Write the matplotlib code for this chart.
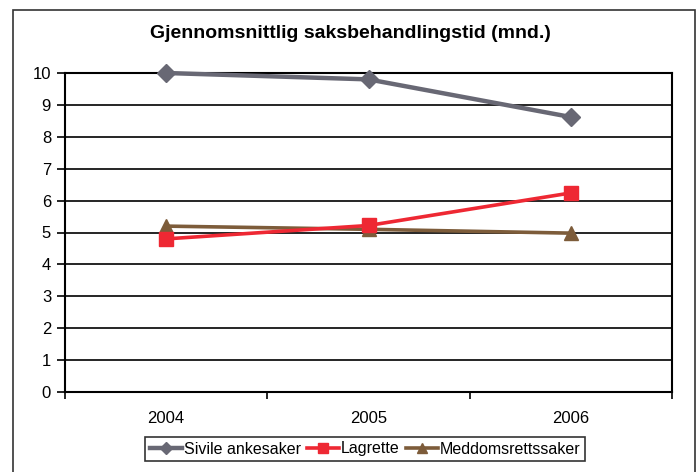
import matplotlib
matplotlib.use("Agg")
import matplotlib.pyplot as plt
from matplotlib.patches import Rectangle

years = ["2004", "2005", "2006"]
sivile = [10.0, 9.8, 8.62]
lagrette = [4.8, 5.22, 6.24]
meddoms = [5.2, 5.1, 4.98]
series_names = ["Sivile ankesaker", "Lagrette", "Meddomsrettssaker"]

plt.rcParams['font.family'] = ['Liberation Sans', 'DejaVu Sans']

fig = plt.figure(figsize=(7, 4.72), dpi=100)
ax = fig.add_axes([65 / 700, 1 - 392 / 472, 607 / 700, 319 / 472])

x = list(range(len(years)))
ax.plot(x, sivile, color='#686874', lw=3.2, marker='D', ms=9, label=series_names[0],
        zorder=3, clip_on=False)
ax.plot(x, lagrette, color='#ee2833', lw=2.6, marker='s', ms=10, label=series_names[1],
        zorder=4, clip_on=False)
ax.plot(x, meddoms, color='#7d5c3a', lw=2.6, marker='^', ms=10, label=series_names[2],
        zorder=3, clip_on=False)

ax.set_xlim(-0.5, 2.5)
ax.set_ylim(0, 10)
ax.set_yticks(range(0, 11))
ax.set_xticks(x)
ax.set_xticklabels(years)
ax.set_xticks([-0.5, 0.5, 1.5, 2.5], minor=True)
ax.tick_params(axis='x', which='major', length=0, pad=14, labelsize=12)
ax.tick_params(axis='x', which='minor', length=5, width=1.2, direction='out')
ax.tick_params(axis='y', length=6, width=1.2, direction='out', pad=4, labelsize=12)
ax.grid(axis='y', color='black', lw=1.2)
ax.set_axisbelow(True)
for sp in ax.spines.values():
    sp.set_linewidth(1.5)

fig.text(0.5, 1 - 33 / 472, "Gjennomsnittlig saksbehandlingstid (mnd.)",
         ha='center', va='center', fontsize=14, fontweight='bold')

leg = fig.legend(loc='center', bbox_to_anchor=(365 / 700, 1 - 449 / 472), ncol=3,
                 frameon=True, fancybox=False, fontsize=11.5, handlelength=2.0,
                 handletextpad=0.1, columnspacing=0.4, borderpad=0.3, markerscale=0.7)
leg.get_frame().set_edgecolor('black')
leg.get_frame().set_linewidth(1.2)

# outer chart border
fig.patches.append(Rectangle((13 / 700, -0.05), 682 / 700, 1 - 10 / 472 + 0.05,
                             transform=fig.transFigure, fill=False,
                             edgecolor='#333333', lw=1.2))

fig.savefig("out.png", dpi=100)
